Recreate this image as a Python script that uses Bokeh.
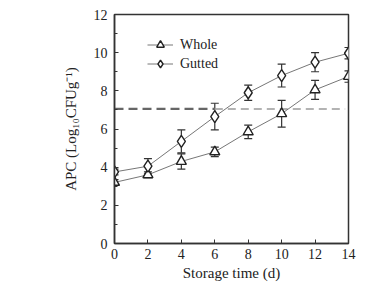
from bokeh.plotting import figure
from bokeh.models import ColumnDataSource, Whisker, TeeHead, Legend, LegendItem, FixedTicker
from bokeh.embed import file_html
from bokeh.resources import INLINE

days = [0, 2, 4, 6, 8, 10, 12, 14]
whole = [3.2, 3.6, 4.3, 4.8, 5.85, 6.8, 8.05, 8.75]
whole_err = [0.15, 0.15, 0.4, 0.25, 0.35, 0.7, 0.5, 0.3]
gutted = [3.75, 4.05, 5.35, 6.65, 7.9, 8.8, 9.5, 9.97]
gutted_err = [0.15, 0.4, 0.6, 0.7, 0.4, 0.6, 0.5, 0.3]
threshold = 7.05
x_ticks = [0, 2, 4, 6, 8, 10, 12, 14]
y_ticks = [0, 2, 4, 6, 8, 10, 12]

FONT = "Liberation Serif"
INK = "#222222"

p = figure(width=375, height=292, output_backend="svg", toolbar_location=None,
           x_range=(0, 14), y_range=(0, 12),
           min_border_left=114, min_border_right=27, min_border_top=14, min_border_bottom=49,
           frame_width=234, frame_height=229)
p.background_fill_color = "white"
p.border_fill_color = "white"
p.outline_line_color = "#333333"
p.outline_line_width = 1.5
p.xgrid.visible = False
p.ygrid.visible = False

for ax in (p.xaxis[0], p.yaxis[0]):
    ax.axis_line_color = "#333333"
    ax.axis_line_width = 1.5
    ax.major_tick_in = 4
    ax.major_tick_out = 0
    ax.minor_tick_in = 3
    ax.minor_tick_out = 0
    ax.major_tick_line_color = "#333333"
    ax.minor_tick_line_color = "#333333"
    ax.major_label_text_font = FONT
    ax.major_label_text_font_size = "14px"
    ax.major_label_text_color = INK
    ax.axis_label_text_font = FONT
    ax.axis_label_text_font_size = "15px"
    ax.axis_label_text_font_style = "normal"
    ax.axis_label_text_color = INK

p.xaxis.ticker = FixedTicker(ticks=x_ticks)
p.yaxis.ticker = FixedTicker(ticks=y_ticks, minor_ticks=[1, 3, 5, 7, 9, 11])
p.xaxis.major_label_standoff = 5
p.yaxis.major_label_standoff = 7
p.xaxis.axis_label = "Storage time (d)"
p.yaxis.axis_label = "APC (Log\u2081\u2080CFUg\u207b\u00b9)"
p.xaxis.axis_label_standoff = 3
p.yaxis.axis_label_standoff = 12

# threshold dashed line (darker on left, lighter on right)
p.line(x=[0, 6.0], y=[threshold, threshold], line_color="#666666", line_width=2.2, line_dash="9 5")
p.line(x=[6.0, 13.8], y=[threshold, threshold], line_color="#9a9a9a", line_width=1.4, line_dash="8 5")

src_w = ColumnDataSource(dict(x=days, y=whole,
                              lo=[a - b for a, b in zip(whole, whole_err)],
                              hi=[a + b for a, b in zip(whole, whole_err)]))
src_g = ColumnDataSource(dict(x=days, y=gutted,
                              lo=[a - b for a, b in zip(gutted, gutted_err)],
                              hi=[a + b for a, b in zip(gutted, gutted_err)]))

for src in (src_w, src_g):
    w = Whisker(source=src, base="x", lower="lo", upper="hi", line_color="#333333", line_width=1.2,
                upper_head=TeeHead(size=8, line_color="#333333", line_width=1.2),
                lower_head=TeeHead(size=8, line_color="#333333", line_width=1.2))
    p.add_layout(w)

lw = p.line("x", "y", source=src_w, line_color="#666666", line_width=0.9)
mw = p.scatter("x", "y", source=src_w, marker="triangle", size=10, fill_color="white",
               line_color=INK, line_width=1.4)
lg = p.line("x", "y", source=src_g, line_color="#666666", line_width=0.9)
mg = p.scatter("x", "y", source=src_g, marker="diamond", size=12, fill_color="white",
               line_color=INK, line_width=1.4)

legend = Legend(items=[LegendItem(label="Whole", renderers=[lw, mw]),
                       LegendItem(label="Gutted", renderers=[lg, mg])],
                location=(33, 170), orientation="vertical",
                glyph_width=26, glyph_height=19, label_height=19, label_standoff=7,
                spacing=0, padding=0, margin=0,
                border_line_color=None, background_fill_alpha=0,
                label_text_font=FONT, label_text_font_size="14px", label_text_color=INK)
p.add_layout(legend)

open("out.html", "w").write(file_html(p, INLINE))
